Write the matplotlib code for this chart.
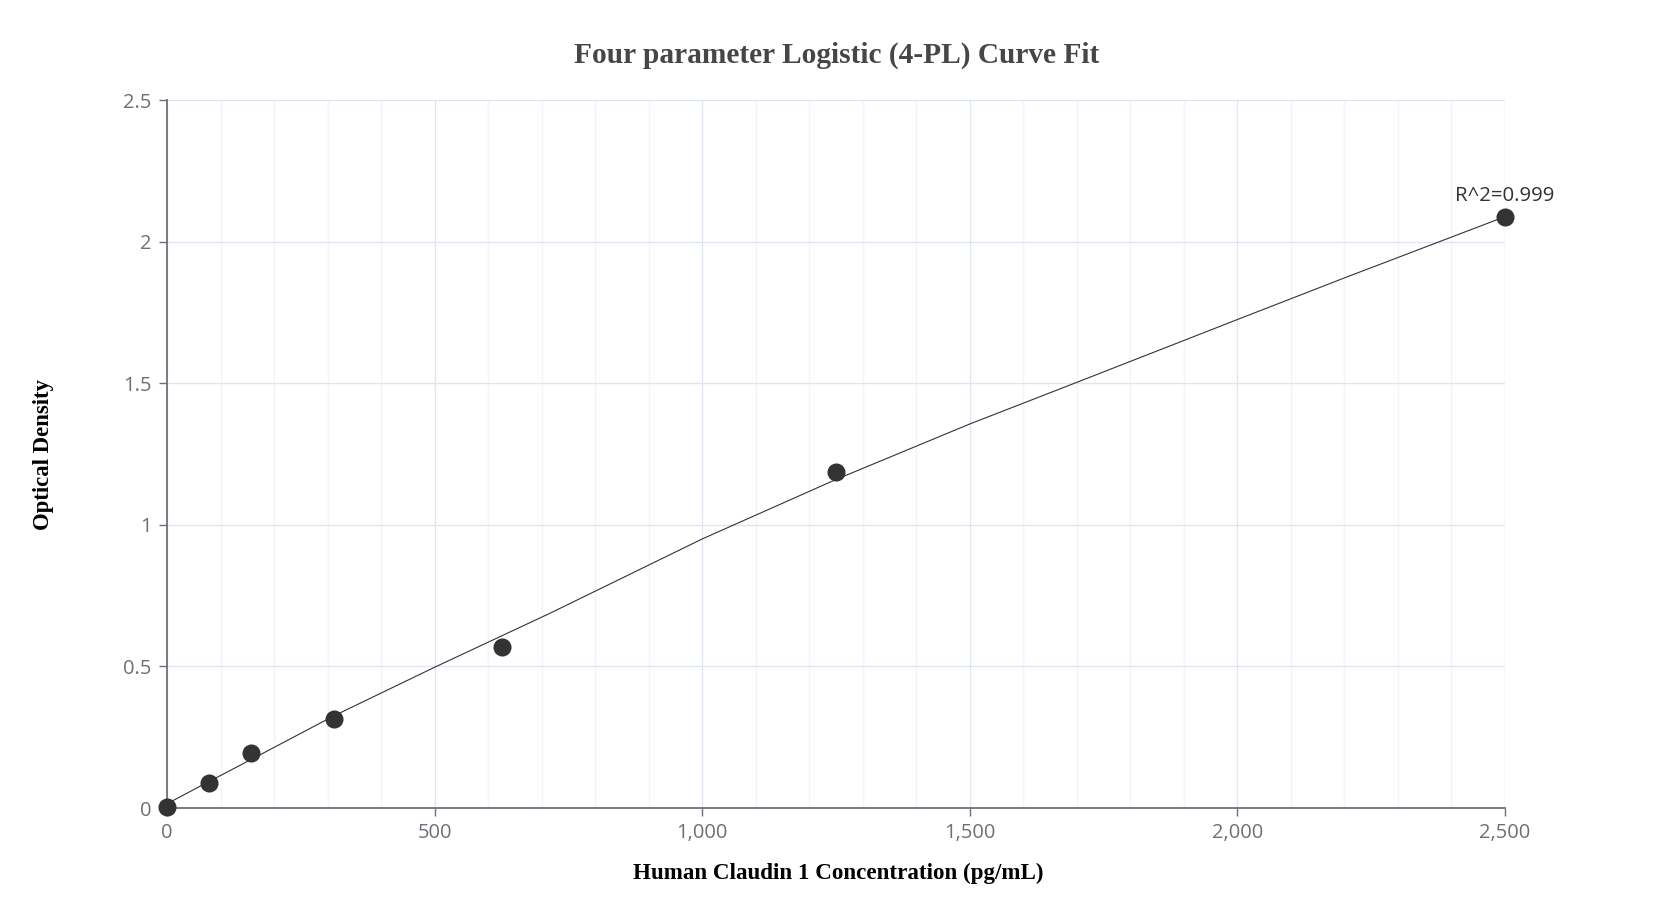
import matplotlib
matplotlib.use("Agg")
import matplotlib.pyplot as plt
from matplotlib.ticker import MultipleLocator, FuncFormatter

# ---- data ----
conc = [0, 78.125, 156.25, 312.5, 625, 1250, 2500]
od = [0.003, 0.089, 0.193, 0.315, 0.568, 1.185, 2.087]

# fitted 4-PL curve
curve_x = [0, 78, 156, 312.5, 500, 716, 1000, 1250, 1500, 1704, 2003, 2203, 2500]
curve_y = [0.015, 0.093, 0.170, 0.326, 0.497, 0.688, 0.950, 1.160, 1.356, 1.506, 1.727, 1.874, 2.088]

r2_label = "R^2=0.999"
title = "Four parameter Logistic (4-PL) Curve Fit"
xlabel = "Human Claudin 1 Concentration (pg/mL)"
ylabel = "Optical Density"

W, H = 1673, 924
fig = plt.figure(figsize=(W / 100, H / 100), dpi=100)
left, right, top, bottom = 167, 1505, 100, 808
ax = fig.add_axes([left / W, 1 - bottom / H, (right - left) / W, (bottom - top) / H])

axis_col = "#6e7079"
ax.set_xlim(0, 2500)
ax.set_ylim(0, 2.5)
ax.xaxis.set_major_locator(MultipleLocator(500))
ax.xaxis.set_minor_locator(MultipleLocator(100))
ax.yaxis.set_major_locator(MultipleLocator(0.5))
ax.xaxis.set_major_formatter(FuncFormatter(lambda v, p: f"{int(v):,}"))
ax.yaxis.set_major_formatter(FuncFormatter(lambda v, p: f"{v:g}"))

ax.grid(which="major", axis="both", color="#e0e6f1", linewidth=1.0)
ax.grid(which="minor", axis="x", color="#f2f4f9", linewidth=1.0)
ax.set_axisbelow(True)

for s in ["top", "right"]:
    ax.spines[s].set_visible(False)
for s in ["left", "bottom"]:
    ax.spines[s].set_color(axis_col)
    ax.spines[s].set_linewidth(1.3)

ax.tick_params(axis="both", which="major", direction="out", length=6, width=1,
               color=axis_col, labelcolor=axis_col, labelsize=14.5, pad=5)
ax.tick_params(axis="x", which="minor", length=0)
for lab in ax.get_xticklabels() + ax.get_yticklabels():
    lab.set_family(["Open Sans", "DejaVu Sans"])

ax.plot(curve_x, curve_y, color="#333333", linewidth=0.8, zorder=3, clip_on=False)
ax.plot(conc, od, linestyle="none", marker="o", markersize=12,
        color="#333333", zorder=4, clip_on=False)

ax.annotate(r2_label, xy=(conc[-1], od[-1]), xytext=(0, 15), textcoords="offset points",
            ha="center", va="center", fontsize=14.7, color="#333333",
            family=["Open Sans", "DejaVu Sans"])

serif = ["Liberation Serif", "DejaVu Serif"]
fig.text(837 / W, 1 - 55 / H, title, ha="center", va="center", fontsize=21.2,
         fontweight="bold", color="#464646", family=serif)
fig.text(838 / W, 1 - 873 / H, xlabel, ha="center", va="center", fontsize=16.6,
         fontweight="bold", color="#000000", family=serif)
fig.text(44 / W, 1 - 454 / H, ylabel, ha="center", va="center", rotation=90,
         fontsize=16.4, fontweight="bold", color="#000000", family=serif)

fig.savefig("out.png", dpi=100, facecolor="white")
